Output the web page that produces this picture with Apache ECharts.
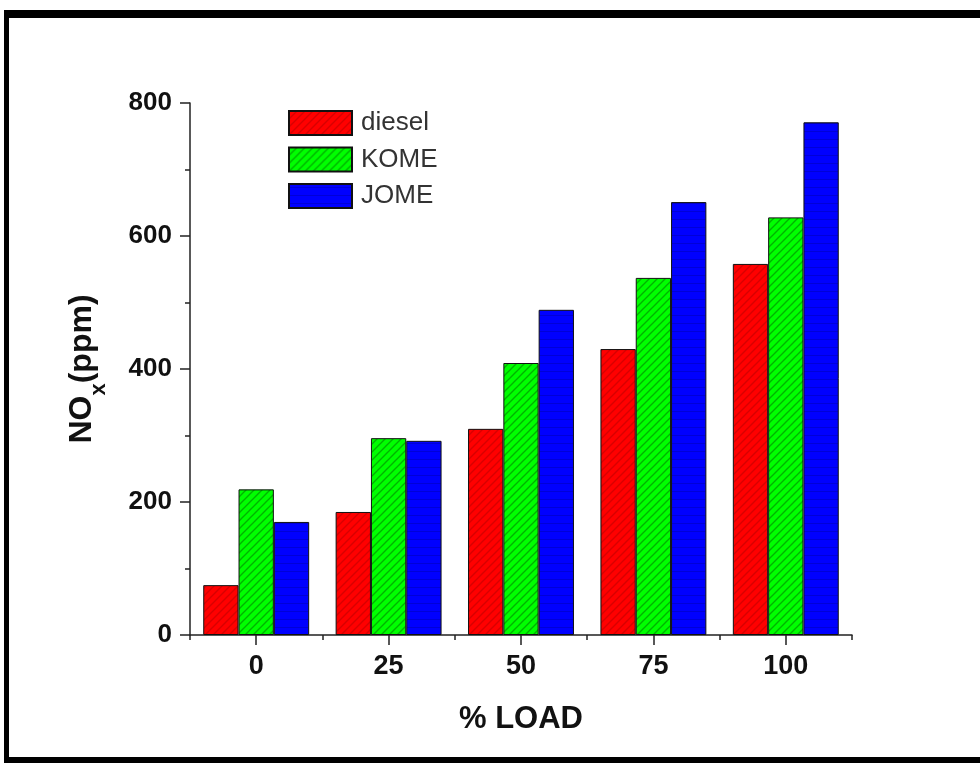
<!DOCTYPE html>
<html>
<head>
<meta charset="utf-8">
<script src="https://cdn.jsdelivr.net/npm/echarts@6/dist/echarts.min.js"></script>
<style>
  html, body { margin: 0; padding: 0; background: #fff; }
  #chart { width: 980px; height: 763px; }
</style>
</head>
<body>
<div id="chart"></div>
<script>
// Engine load (%) categories and NOx emissions (ppm) per fuel
const loads = ['0', '25', '50', '75', '100'];
const diesel = [75, 185, 310, 430, 558];
const kome = [219, 296, 409, 537, 628];
const jome = [170, 292, 489, 651, 771];
const yTicks = [0, 200, 400, 600, 800];

// Small tiled fills: hatched red, hatched green, lightly ruled blue
function makePattern(base, stripe, kind) {
  const c = document.createElement('canvas');
  const s = 8;
  c.width = s; c.height = s;
  const g = c.getContext('2d');
  g.fillStyle = base;
  g.fillRect(0, 0, s, s);
  g.strokeStyle = stripe;
  g.lineWidth = 1.4;
  if (kind === 'diag') {
    g.beginPath();
    g.moveTo(0, s); g.lineTo(s, 0);
    g.moveTo(-s / 2, s / 2); g.lineTo(s / 2, -s / 2);
    g.moveTo(s / 2, s * 1.5); g.lineTo(s * 1.5, s / 2);
    g.stroke();
  } else {
    g.lineWidth = 1;
    g.beginPath();
    g.moveTo(0, 3.5); g.lineTo(s, 3.5);
    g.stroke();
  }
  return { image: c, repeat: 'repeat' };
}

const redFill = makePattern('#ff0000', '#d80000', 'diag');
const greenFill = makePattern('#00ff00', '#00b400', 'diag');
const blueFill = makePattern('#0000ff', '#0000d8', 'rule');

const chart = echarts.init(document.getElementById('chart'), null, { renderer: 'canvas' });

const font = '"Liberation Sans", Arial, sans-serif';

function barSeries(name, data, fill) {
  return {
    name: name,
    type: 'bar',
    data: data,
    barGap: '0%',
    barCategoryGap: '20%',
    itemStyle: { color: fill, borderColor: '#111', borderWidth: 1 },
    emphasis: { disabled: true }
  };
}

chart.setOption({
  animation: false,
  backgroundColor: '#fff',
  grid: { left: 190, right: 128, top: 103, bottom: 128, containLabel: false },
  legend: {
    orient: 'vertical',
    left: 288,
    top: 110,
    padding: 0,
    itemWidth: 63,
    itemHeight: 24,
    itemGap: 10.5,
    icon: 'rect',
    textStyle: { fontFamily: font, fontSize: 26, color: '#333', padding: [0, 0, 0, 4] },
    data: ['diesel', 'KOME', 'JOME']
  },
  xAxis: [
    {
      type: 'category',
      data: loads,
      position: 'bottom',
      axisLine: { show: true, lineStyle: { color: '#222', width: 1.5 } },
      axisTick: { show: true, alignWithLabel: true, length: 10, lineStyle: { color: '#222', width: 1.5 } },
      axisLabel: { fontFamily: font, fontSize: 27, fontWeight: 'bold', color: '#111', margin: 18 },
      name: '% LOAD',
      nameLocation: 'middle',
      nameGap: 69,
      nameTextStyle: { fontFamily: font, fontSize: 31, fontWeight: 'bold', color: '#111' }
    },
    {
      type: 'category',
      data: loads,
      position: 'bottom',
      axisLine: { show: false },
      axisTick: { show: true, alignWithLabel: false, length: 5, lineStyle: { color: '#222', width: 1.5 } },
      axisLabel: { show: false }
    }
  ],
  yAxis: {
    type: 'value',
    min: yTicks[0],
    max: yTicks[yTicks.length - 1],
    interval: 200,
    axisLine: { show: true, lineStyle: { color: '#222', width: 1.5 } },
    axisTick: { show: true, length: 10, lineStyle: { color: '#222', width: 1.5 } },
    minorTick: { show: true, splitNumber: 2, length: 5, lineStyle: { color: '#222', width: 1.5 } },
    splitLine: { show: false },
    axisLabel: { fontFamily: font, fontSize: 26, fontWeight: 'bold', color: '#111', margin: 18 },
    name: '{a|NO}{b|x}{a|(ppm)}',
    nameLocation: 'middle',
    nameGap: 92,
    nameRotate: 90,
    nameTextStyle: {
      rich: {
        a: { fontFamily: font, fontSize: 32, fontWeight: 'bold', color: '#111', verticalAlign: 'bottom', lineHeight: 36 },
        b: { fontFamily: font, fontSize: 22, fontWeight: 'bold', color: '#111', verticalAlign: 'bottom', lineHeight: 36, padding: [0, 0, -12, 0] }
      }
    }
  },
  series: [
    barSeries('diesel', diesel, redFill),
    barSeries('KOME', kome, greenFill),
    barSeries('JOME', jome, blueFill)
  ],
  graphic: [
    // heavy outer frame
    { type: 'rect', left: 4, top: 10, shape: { width: 976, height: 8 }, style: { fill: '#000' }, silent: true },
    { type: 'rect', left: 4, top: 10, shape: { width: 5, height: 753 }, style: { fill: '#000' }, silent: true },
    { type: 'rect', left: 4, top: 757, shape: { width: 976, height: 6 }, style: { fill: '#000' }, silent: true }
  ]
});
</script>
</body>
</html>
